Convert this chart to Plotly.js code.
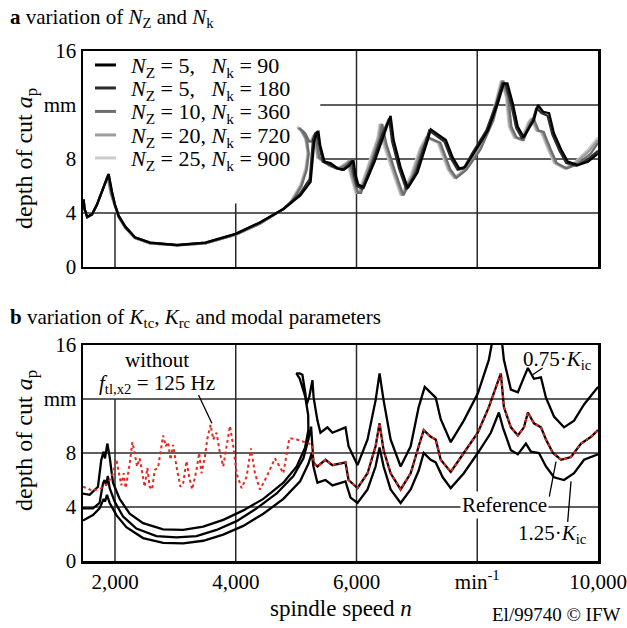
<!DOCTYPE html>
<html>
<head>
<meta charset="utf-8">
<script src="https://cdn.plot.ly/plotly-3.0.1.min.js"></script>
<style>html,body{margin:0;padding:0;background:#fff;}#chart{width:627px;height:628px;}</style>
</head>
<body>
<div id="chart"></div>
<script>
// ---------- Panel a: variation of Nz and Nk ----------
const seriesNames = [
  "<i>N</i><sub>Z</sub> = 5,\u00a0\u00a0\u00a0<i>N</i><sub>k</sub> = 90",
  "<i>N</i><sub>Z</sub> = 5,\u00a0\u00a0\u00a0<i>N</i><sub>k</sub> = 180",
  "<i>N</i><sub>Z</sub> = 10, <i>N</i><sub>k</sub> = 360",
  "<i>N</i><sub>Z</sub> = 20, <i>N</i><sub>k</sub> = 720",
  "<i>N</i><sub>Z</sub> = 25, <i>N</i><sub>k</sub> = 900"
];
const n1 = [1480,1495,1540,1620,1700,1800,1895,1950,2000,2060,2170,2330,2580,3030,3500,4000,4400,4790,5070,5240,5275,5300,5340,5370,5400,5440,5470,5570,5690,5790,5880,5950,5985,6030,6120,6300,6450,6565,6615,6730,6850,7010,7180,7230,7480,7595,7700,7800,7940,8010,8175,8340,8440,8500,8590,8670,8770,8940,9005,9090,9190,9270,9390,9500,9670,9835,10000];
const v1 = [5.0,4.3,3.7,3.9,4.6,5.8,6.9,5.6,4.6,3.8,3.0,2.2,1.8,1.63,1.8,2.45,3.3,4.3,5.3,6.3,7.8,9.3,9.9,10.0,9.0,8.3,7.8,7.7,7.3,7.2,7.5,7.9,6.8,6.1,5.9,7.8,9.8,11.2,9.4,7.4,5.85,7.0,9.4,10.2,9.4,8.1,7.3,7.4,8.4,8.9,10.1,12.1,13.6,13.6,12.1,10.4,9.6,10.9,12.0,11.5,11.4,9.9,8.7,7.8,7.55,7.8,8.4];
const n2 = [1480,1495,1540,1620,1700,1800,1892,1947,2000,2060,2170,2330,2580,3030,3500,4000,4400,4790,5060,5225,5258,5280,5315,5345,5375,5412,5442,5545,5665,5765,5855,5925,5960,6005,6095,6275,6425,6540,6590,6705,6825,6985,7155,7205,7455,7570,7675,7775,7915,7985,8150,8315,8415,8475,8565,8645,8745,8915,8980,9065,9165,9245,9365,9475,9645,9810,10000];
const v2 = [5.0,4.3,3.7,3.9,4.6,5.8,6.85,5.55,4.6,3.8,3.0,2.2,1.8,1.62,1.8,2.45,3.3,4.3,5.4,6.5,8.0,9.4,9.9,10.0,9.2,8.3,7.8,7.6,7.3,7.2,7.5,7.9,6.8,6.0,5.8,7.8,9.8,11.0,9.3,7.3,5.75,7.0,9.3,10.1,9.3,8.0,7.2,7.3,8.4,8.9,10.1,12.1,13.6,13.5,12.0,10.3,9.5,10.8,11.8,11.4,11.2,9.8,8.6,7.7,7.5,7.9,8.6];
const n3 = [1480,1495,1540,1620,1700,1800,1882,1936,2000,2060,2170,2330,2580,3030,3500,4000,4400,4790,4930,5090,5175,5210,5175,5100,5050,5150,5220,5270,5320,5385,5485,5575,5725,5840,5890,5940,6025,6075,6240,6390,6425,6495,6645,6775,6945,7095,7191,7390,7556,7656,7822,8054,8270,8400,8430,8515,8565,8650,8768,8884,8934,9017,9100,9216,9316,9482,9648,9880,10000];
const v3 = [5.0,4.3,3.7,3.9,4.6,5.8,6.75,5.45,4.5,3.7,2.9,2.15,1.75,1.6,1.75,2.4,3.2,4.3,4.8,6.0,7.2,8.4,9.5,10.1,10.3,9.9,9.3,9.3,9.8,8.1,7.8,7.5,7.3,7.6,7.8,6.8,5.5,5.5,7.6,9.6,10.6,9.1,7.0,5.3,6.8,8.8,9.6,9.2,7.2,6.6,7.2,8.7,10.9,13.3,13.8,12.6,10.4,9.6,9.4,10.7,11.0,10.1,10.0,8.7,7.7,7.3,7.6,8.4,9.2];
const n4 = [1480,1495,1540,1620,1700,1800,1878,1932,2000,2060,2170,2330,2580,3030,3500,4000,4400,4790,4910,5075,5160,5195,5155,5078,5025,5128,5198,5250,5300,5360,5460,5550,5700,5815,5865,5915,6000,6050,6215,6365,6400,6470,6620,6750,6920,7070,7166,7365,7531,7631,7797,8029,8245,8375,8405,8490,8540,8625,8743,8859,8909,8992,9075,9191,9291,9457,9623,9855,10000];
const v4 = [5.0,4.3,3.7,3.9,4.6,5.8,6.75,5.45,4.5,3.7,2.9,2.15,1.75,1.6,1.75,2.4,3.2,4.3,4.8,6.0,7.2,8.4,9.5,10.1,10.3,9.9,9.3,9.3,9.8,8.1,7.8,7.5,7.3,7.6,7.8,6.8,5.5,5.5,7.6,9.6,10.6,9.1,7.0,5.3,6.8,8.8,9.6,9.2,7.2,6.6,7.2,8.7,10.9,13.3,13.8,12.6,10.4,9.6,9.4,10.7,11.0,10.1,10.0,8.7,7.7,7.3,7.7,8.6,9.4];
const n5 = [1480,1495,1540,1620,1700,1800,1875,1930,2000,2060,2170,2330,2580,3030,3500,4000,4400,4790,4905,5070,5155,5190,5150,5070,5016,5120,5190,5240,5290,5350,5450,5540,5690,5800,5850,5900,5985,6035,6200,6350,6380,6450,6600,6731,6900,7050,7146,7345,7511,7611,7777,8009,8225,8358,8391,8474,8524,8607,8723,8839,8889,8972,9055,9171,9271,9437,9603,9835,10000];
const v5 = [5.0,4.3,3.7,3.9,4.6,5.8,6.7,5.4,4.5,3.7,2.9,2.15,1.75,1.6,1.75,2.4,3.2,4.3,4.8,6.1,7.3,8.5,9.6,10.2,10.4,10.0,9.3,9.3,9.8,8.1,7.8,7.5,7.3,7.6,7.8,6.8,5.5,5.5,7.6,9.6,10.6,9.0,7.0,5.3,6.8,8.8,9.6,9.2,7.2,6.6,7.2,8.7,10.9,13.3,13.8,12.6,10.4,9.6,9.4,10.7,11.0,10.1,10.0,8.7,7.7,7.3,7.7,8.7,9.6];
const seriesColors = ["#000000","#2b2b2b","#6e6e6e","#9c9c9c","#cbcbcb"];

// ---------- Panel b: variation of Ktc, Krc and modal parameters ----------
// 0.75*Kic curve
const topN = [1470,1580,1718,1773,1812,1834,1873,1912,1967,2077,2243,2465,2797,3129,3461,3793,4125,4457,4789,5010,5148,5203,5200,5150,5060,5005,5060,5104,5150,5175,5220,5270,5290,5353,5403,5519,5602,5818,5868,6017,6183,6316,6382,6449,6565,6731,6897,7030,7130,7312,7395,7561,7777,8009,8192,8300,8380,8441,8557,8673,8773,8839,8939,9055,9138,9271,9437,9603,9769,10000];
const topV = [5.0,4.9,5.5,7.5,8.1,7.6,8.7,7.7,5.8,4.6,3.5,2.8,2.35,2.3,2.55,3.05,3.75,4.6,5.8,7.0,8.4,9.7,10.8,12.2,13.5,13.9,13.9,13.8,12.5,11.6,12.2,13.4,12.1,10.4,9.5,9.9,9.5,9.9,8.5,7.1,9.0,11.9,13.9,11.9,9.0,7.0,8.5,11.4,12.9,12.1,10.5,8.8,10.4,12.4,14.9,17.5,17.5,14.9,12.7,12.5,13.6,14.3,13.5,13.6,12.1,10.7,9.9,10.4,11.6,12.9];
// reference curve, left part (with the 125 Hz mode)
const refLeftN = [1470,1635,1745,1801,1828,1856,1880,1912,1994,2133,2354,2686,3018,3350,3682,4014,4346,4678,4955,5121,5203,5248];
const refLeftV = [3.9,3.9,4.3,5.75,6.0,5.6,6.3,5.4,4.4,3.3,2.4,1.85,1.75,1.85,2.3,2.95,3.9,5.0,6.3,7.6,9.0,9.95];
// reference curve, right part (shared by both reference variants)
const refN = [5287,5353,5486,5602,5818,5868,6017,6183,6316,6382,6449,6565,6731,6897,7030,7113,7229,7312,7395,7561,7777,8009,8192,8341,8391,8441,8557,8673,8773,8839,8939,9055,9138,9254,9387,9553,9719,9885,10000];
const refV = [7.3,7.0,7.5,7.1,7.3,6.0,5.4,6.5,8.5,10.2,8.2,6.5,5.3,6.5,8.5,9.7,9.2,9.0,7.5,6.6,8.0,9.5,11.4,13.2,13.9,11.4,9.9,9.3,9.9,11.0,10.2,9.9,9.0,8.0,7.5,7.7,8.7,9.2,9.7];
// reference without f_tl,x2 = 125 Hz, left part
const withoutN = [1470,1635,1773,1884,1967,2023,2077,2105,2143,2177,2243,2287,2326,2365,2409,2454,2492,2536,2575,2614,2658,2713,2797,2841,2880,2919,2963,3018,3084,3129,3184,3228,3278,3350,3394,3433,3489,3527,3583,3627,3682,3738,3793,3848,3904,3959,4014,4097,4180,4252,4318,4401,4512,4650,4733,4789,4888,5010,5148,5270];
const withoutV = [5.5,5.2,5.4,5.75,6.5,7.5,6.25,5.6,6.5,5.4,7.2,8.8,8.0,7.0,7.6,6.5,5.5,6.9,5.5,5.3,6.75,6.9,9.3,8.5,8.8,7.5,8.6,7.0,5.5,5.75,7.4,6.25,5.3,6.75,8.0,6.5,7.7,9.0,10.1,9.0,9.5,8.0,7.0,8.5,10.0,8.5,6.5,5.4,6.25,8.35,6.5,5.3,6.25,7.6,7.0,6.5,9.1,9.0,8.8,8.6];
// 1.25*Kic curve
const botN = [1470,1635,1745,1812,1834,1867,1912,2023,2188,2465,2797,3129,3461,3793,4125,4457,4789,5066,5203,5259,5287,5353,5486,5602,5818,5901,6017,6183,6316,6382,6449,6565,6731,6897,7030,7113,7229,7312,7428,7561,7777,8009,8225,8358,8424,8557,8673,8806,8889,9022,9138,9271,9437,9603,9769,10000];
const botV = [3.0,3.4,3.9,4.6,4.4,4.9,4.3,3.4,2.5,1.7,1.35,1.3,1.5,1.95,2.6,3.5,4.6,5.9,7.2,8.0,7.0,5.8,6.0,5.6,5.9,4.7,4.3,5.3,7.0,8.4,7.0,5.3,4.3,5.3,6.7,8.0,7.5,7.3,6.2,5.4,6.5,8.0,9.5,11.0,9.9,8.2,7.9,8.7,8.1,8.0,7.0,6.2,6.0,6.5,7.5,7.9];

// axis ticks and grid positions
const xTickVals = [2000,4000,6000,8000,10000];
const xTickText = ["2,000","4,000","6,000","min<sup>-1</sup>","10,000"];
const yTickVals = [0,4,8,12,16];
const yTickText = ["0","4","8","mm","16"];
const xRange = [1470,10000];

const SERIF = "Liberation Serif, Times New Roman, serif";
const traces = [];
for (let i = 4; i >= 0; i--) {
  const ns = [n1,n2,n3,n4,n5][i], vs = [v1,v2,v3,v4,v5][i];
  traces.push({type:"scatter", mode:"lines", x:ns, y:vs, xaxis:"x", yaxis:"y",
    name:seriesNames[i], showlegend:false, line:{color:seriesColors[i], width:2.3}, hoverinfo:"skip"});
}
traces.push({type:"scatter", mode:"lines", x:topN, y:topV, xaxis:"x2", yaxis:"y2",
  name:"0.75·Kic", showlegend:false, line:{color:"#000", width:2.3}, hoverinfo:"skip"});
traces.push({type:"scatter", mode:"lines", x:botN, y:botV, xaxis:"x2", yaxis:"y2",
  name:"1.25·Kic", showlegend:false, line:{color:"#000", width:2.3}, hoverinfo:"skip"});
traces.push({type:"scatter", mode:"lines", x:refLeftN.concat(refN), y:refLeftV.concat(refV), xaxis:"x2", yaxis:"y2",
  name:"Reference", showlegend:false, line:{color:"#000", width:2.3}, hoverinfo:"skip"});
traces.push({type:"scatter", mode:"lines", x:withoutN.concat(refN), y:withoutV.concat(refV), xaxis:"x2", yaxis:"y2",
  name:"without f = 125 Hz", showlegend:false, line:{color:"#e8281e", width:2, dash:"dot"}, hoverinfo:"skip"});

const GRID = {color:"#2a2a2a", width:1.5};
function hline(ax, y, x0, x1){ return {type:"line", xref:"x"+ax, yref:"y"+ax, x0:x0, x1:x1, y0:y, y1:y, line:GRID, layer:"below"}; }
function vline(ax, x, y0, y1){ return {type:"line", xref:"x"+ax, yref:"y"+ax, x0:x, x1:x, y0:y0, y1:y1, line:GRID, layer:"below"}; }
function lead(x0,y0,x1,y1){ return {type:"line", xref:"x2", yref:"y2", x0:x0, y0:y0, x1:x1, y1:y1, line:{color:"#000", width:1.3}}; }

const shapes = [
  hline("", 4, xRange[0], xRange[1]), hline("", 8, 5400, xRange[1]), hline("", 12, 5400, xRange[1]),
  vline("", 2000, 0, 4), vline("", 4000, 0, 4.7), vline("", 6000, 0, 16), vline("", 8000, 0, 16),
  hline("2", 4, xRange[0], xRange[1]), hline("2", 8, xRange[0], xRange[1]), hline("2", 12, xRange[0], xRange[1]),
  vline("2", 2000, 0, 12), vline("2", 4000, 0, 16), vline("2", 6000, 0, 16), vline("2", 8000, 0, 16),
  lead(3383, 12.3, 3605, 10.2),
  lead(8917, 13.8, 9083, 14.3),
  lead(9193, 4.76, 9304, 7.36),
  lead(9498, 2.9, 9553, 5.9)
];

// legend of panel a (drawn manually to match the compact row spacing)
const legendRowY = [0.9686, 0.9235, 0.8775, 0.8314, 0.7863];
for (let i = 0; i < 5; i++) {
  shapes.push({type:"line", xref:"paper", yref:"paper", x0:0.0233, x1:0.064, y0:legendRowY[i]+0.004, y1:legendRowY[i]+0.004,
    line:{color:seriesColors[i], width:3}});
}

function axisCommon(){ return {range:xRange, showgrid:false, zeroline:false, showline:true, mirror:true,
  linecolor:"#000", linewidth:2.5, ticks:"", fixedrange:true}; }

const xa = Object.assign(axisCommon(), {anchor:"y", domain:[0,1], showticklabels:false});
const xb = Object.assign(axisCommon(), {anchor:"y2", domain:[0,1], tickvals:xTickVals, ticktext:xTickText,
  tickfont:{family:SERIF, size:21, color:"#000"}});
function yAxis(dom, anchor){ return {domain:dom, anchor:anchor, range:[0,16], showgrid:false, zeroline:false,
  showline:true, mirror:true, linecolor:"#000", linewidth:2.5, ticks:"", tickvals:yTickVals, ticktext:yTickText,
  tickfont:{family:SERIF, size:21, color:"#000"}, fixedrange:true}; }

const ann = (o) => Object.assign({showarrow:false, font:{family:SERIF, size:21, color:"#000"}}, o);
const annotations = [
  ann({xref:"paper", yref:"paper", x:-0.1456, y:1.064, xanchor:"left", yanchor:"middle",
       text:"<b>a</b> variation of <i>N</i><sub>Z</sub> and <i>N</i><sub>k</sub>"}),
  ann({xref:"paper", yref:"paper", x:-0.1456, y:0.476, xanchor:"left", yanchor:"middle",
       text:"<b>b</b> variation of <i>K</i><sub>tc</sub>, <i>K</i><sub>rc</sub> and modal parameters"}),
  ann({xref:"paper", yref:"paper", x:-0.111, y:0.79, textangle:-90, xanchor:"center", yanchor:"middle",
       font:{family:SERIF, size:24, color:"#000"}, text:"depth of cut <i>a</i><sub>p</sub>"}),
  ann({xref:"paper", yref:"paper", x:-0.111, y:0.237, textangle:-90, xanchor:"center", yanchor:"middle",
       font:{family:SERIF, size:24, color:"#000"}, text:"depth of cut <i>a</i><sub>p</sub>"}),
  ann({xref:"paper", yref:"paper", x:0.501, y:-0.093, xanchor:"center", yanchor:"middle",
       font:{family:SERIF, size:23, color:"#000"}, text:"spindle speed <i>n</i>"}),
  ann({xref:"paper", yref:"paper", x:1.0466, y:-0.104, xanchor:"right", yanchor:"middle",
       font:{family:SERIF, size:19, color:"#000"}, text:"El/99740 © IFW"}),
  ann({xref:"x2", yref:"y2", x:2700, y:14.9, text:"without"}),
  ann({xref:"x2", yref:"y2", x:2700, y:13.1, text:"<i>f</i><sub>tl,x2</sub> = 125 Hz"}),
  ann({xref:"x2", yref:"y2", x:9330, y:14.9, text:"0.75·<i>K</i><sub>ic</sub>"}),
  ann({xref:"x2", yref:"y2", x:8457, y:4.15, text:"Reference", bgcolor:"#fff"}),
  ann({xref:"x2", yref:"y2", x:9240, y:2.0, text:"1.25·<i>K</i><sub>ic</sub>"})
];
for (let i = 0; i < 5; i++) {
  annotations.push(ann({xref:"paper", yref:"paper", x:0.0874, y:legendRowY[i], xanchor:"left", yanchor:"middle",
    font:{family:SERIF, size:22, color:"#000"}, text:seriesNames[i]}));
}

const layout = {
  width:627, height:628, autosize:false,
  margin:{l:83, r:29, t:51, b:67, pad:0},
  paper_bgcolor:"#fff", plot_bgcolor:"#fff",
  font:{family:SERIF, size:20, color:"#000"},
  showlegend:false,
  xaxis:xa, yaxis:yAxis([0.5765,1],"x"),
  xaxis2:xb, yaxis2:yAxis([0,0.4235],"x2"),
  shapes:shapes, annotations:annotations
};

Plotly.newPlot("chart", traces, layout, {displayModeBar:false, staticPlot:true});
</script>
</body>
</html>
